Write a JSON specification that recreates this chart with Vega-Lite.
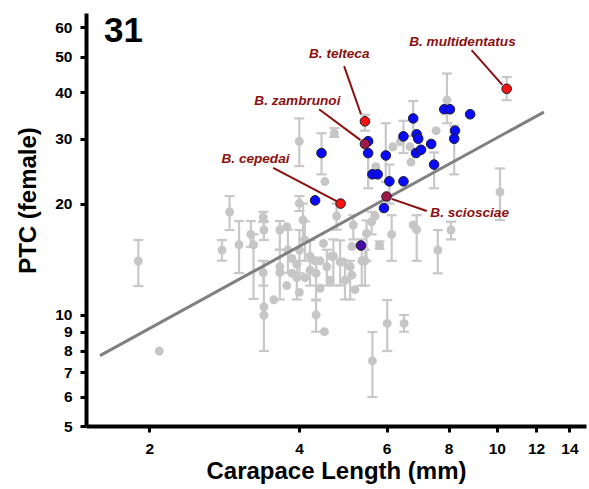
{
  "$schema": "https://vega.github.io/schema/vega-lite/v6.json",
  "width": 500,
  "height": 413,
  "autosize": "none",
  "padding": {"left": 86, "top": 13, "right": 3, "bottom": 63},
  "background": "white",
  "config": {
    "view": {"stroke": null},
    "axis": {
      "grid": false,
      "domainColor": "black",
      "domainWidth": 4,
      "tickColor": "black",
      "tickWidth": 3,
      "tickSize": 6,
      "labelFont": "Liberation Sans",
      "labelFontSize": 15.5,
      "labelFontWeight": "bold",
      "labelColor": "black",
      "titleFont": "Liberation Sans",
      "titleFontSize": 24,
      "titleFontWeight": "bold",
      "titleColor": "black"
    }
  },
  "datasets": {
    "pts": [
      {"x": 1.90, "y": 13.98, "g": "gray", "lo": 11.96, "hi": 15.94},
      {"x": 2.094, "y": 7.98, "g": "gray"},
      {"x": 2.80, "y": 14.97, "g": "gray", "lo": 14.01, "hi": 15.94},
      {"x": 2.90, "y": 18.97, "g": "gray", "lo": 16.96, "hi": 20.96},
      {"x": 3.03, "y": 15.47, "g": "gray", "lo": 12.97, "hi": 17.94},
      {"x": 3.20, "y": 16.51, "g": "gray", "lo": 15.26, "hi": 17.94},
      {"x": 3.24, "y": 15.47, "g": "gray", "lo": 11.04, "hi": 16.51},
      {"x": 3.39, "y": 18.39, "g": "gray", "lo": 17.82, "hi": 19.0},
      {"x": 3.40, "y": 16.96, "g": "gray", "lo": 15.94, "hi": 17.94},
      {"x": 3.39, "y": 13.0, "g": "gray", "lo": 12.0, "hi": 14.0},
      {"x": 3.40, "y": 10.5, "g": "gray", "lo": 7.98, "hi": 13.98},
      {"x": 3.40, "y": 9.97, "g": "gray"},
      {"x": 3.56, "y": 10.98, "g": "gray"},
      {"x": 3.66, "y": 16.96, "g": "gray", "lo": 15.0, "hi": 17.94},
      {"x": 3.66, "y": 13.49, "g": "gray"},
      {"x": 3.66, "y": 13.0, "g": "gray", "lo": 11.0, "hi": 15.0},
      {"x": 3.78, "y": 17.31, "g": "gray"},
      {"x": 4.006, "y": 20.03, "g": "gray", "lo": 19.09, "hi": 20.96},
      {"x": 4.006, "y": 29.5, "g": "gray", "lo": 25.26, "hi": 34.0},
      {"x": 4.71, "y": 31.0, "g": "gray", "lo": 30.3, "hi": 32.0},
      {"x": 4.51, "y": 22.94, "g": "gray"},
      {"x": 5.71, "y": 25.16, "g": "gray"},
      {"x": 6.18, "y": 28.5, "g": "gray"},
      {"x": 6.40, "y": 29.4, "g": "gray"},
      {"x": 6.69, "y": 28.5, "g": "gray"},
      {"x": 6.72, "y": 25.9, "g": "gray"},
      {"x": 7.55, "y": 31.5, "g": "gray"},
      {"x": 7.94, "y": 38.1, "g": "gray", "lo": 33.0, "hi": 45.0},
      {"x": 10.15, "y": 21.5, "g": "gray", "lo": 18.05, "hi": 24.9},
      {"x": 8.09, "y": 16.96, "g": "gray", "lo": 16.0, "hi": 17.86},
      {"x": 7.61, "y": 14.97, "g": "gray", "lo": 12.95, "hi": 16.96},
      {"x": 6.90, "y": 17.0, "g": "gray", "lo": 14.0, "hi": 18.6},
      {"x": 6.79, "y": 17.5, "g": "gray"},
      {"x": 6.145, "y": 16.5, "g": "gray", "lo": 14.0, "hi": 18.6},
      {"x": 5.81, "y": 15.4, "g": "gray", "lo": 15.1, "hi": 15.8},
      {"x": 5.60, "y": 17.86, "g": "gray", "lo": 16.5, "hi": 19.0},
      {"x": 5.69, "y": 18.5, "g": "gray"},
      {"x": 5.145, "y": 17.5, "g": "gray", "lo": 16.0, "hi": 18.6},
      {"x": 4.76, "y": 18.5, "g": "gray", "lo": 17.0, "hi": 20.0},
      {"x": 4.075, "y": 18.05, "g": "gray", "lo": 16.0, "hi": 20.0},
      {"x": 5.47, "y": 16.6, "g": "gray", "lo": 14.0, "hi": 18.0},
      {"x": 5.11, "y": 15.3, "g": "gray"},
      {"x": 4.84, "y": 13.9, "g": "gray", "lo": 12.0, "hi": 15.9},
      {"x": 4.55, "y": 13.49, "g": "gray", "lo": 12.0, "hi": 15.0},
      {"x": 4.31, "y": 14.0, "g": "gray"},
      {"x": 4.11, "y": 15.94, "g": "gray", "lo": 14.0, "hi": 17.9},
      {"x": 4.48, "y": 15.6, "g": "gray"},
      {"x": 4.69, "y": 14.4, "g": "gray", "lo": 12.0, "hi": 16.0},
      {"x": 5.43, "y": 14.0, "g": "gray", "lo": 12.0, "hi": 15.0},
      {"x": 5.07, "y": 13.49, "g": "gray", "lo": 11.0, "hi": 14.0},
      {"x": 4.21, "y": 13.2, "g": "gray"},
      {"x": 3.96, "y": 12.6, "g": "gray", "lo": 11.0, "hi": 14.0},
      {"x": 4.11, "y": 12.6, "g": "gray"},
      {"x": 4.006, "y": 11.5, "g": "gray"},
      {"x": 3.87, "y": 12.95, "g": "gray"},
      {"x": 4.33, "y": 12.95, "g": "gray", "lo": 11.0, "hi": 14.0},
      {"x": 4.33, "y": 9.99, "g": "gray", "lo": 9.0, "hi": 10.94},
      {"x": 4.50, "y": 9.0, "g": "gray"},
      {"x": 6.02, "y": 9.48, "g": "gray", "lo": 7.98, "hi": 10.96},
      {"x": 6.51, "y": 9.48, "g": "gray", "lo": 9.0, "hi": 9.99},
      {"x": 5.62, "y": 7.50, "g": "gray", "lo": 5.99, "hi": 8.98},
      {"x": 3.80, "y": 14.97, "g": "gray", "lo": 13.0, "hi": 17.0},
      {"x": 3.87, "y": 14.2, "g": "gray"},
      {"x": 3.96, "y": 13.7, "g": "gray"},
      {"x": 4.009, "y": 14.97, "g": "gray", "lo": 12.95, "hi": 16.96},
      {"x": 3.78, "y": 12.0, "g": "gray"},
      {"x": 4.21, "y": 14.4, "g": "gray", "lo": 12.0, "hi": 15.94},
      {"x": 4.41, "y": 11.8, "g": "gray"},
      {"x": 4.62, "y": 12.4, "g": "gray"},
      {"x": 4.95, "y": 12.4, "g": "gray", "lo": 11.0, "hi": 14.0},
      {"x": 5.185, "y": 11.7, "g": "gray"},
      {"x": 5.35, "y": 14.0, "g": "gray", "lo": 12.0, "hi": 16.0},
      {"x": 5.11, "y": 12.8, "g": "gray"},
      {"x": 4.91, "y": 13.9, "g": "gray"},
      {"x": 4.65, "y": 14.4, "g": "gray"},
      {"x": 4.41, "y": 14.0, "g": "gray"},
      {"x": 5.51, "y": 29.5, "g": "blue"},
      {"x": 5.51, "y": 27.4, "g": "blue", "lo": 22.0, "hi": 29.5},
      {"x": 4.44, "y": 27.4, "g": "blue", "lo": 24.0, "hi": 31.0},
      {"x": 4.31, "y": 20.4, "g": "blue"},
      {"x": 5.93, "y": 19.45, "g": "blue"},
      {"x": 5.62, "y": 24.0, "g": "blue"},
      {"x": 5.76, "y": 24.0, "g": "blue"},
      {"x": 5.98, "y": 27.0, "g": "blue", "lo": 22.9, "hi": 33.0},
      {"x": 6.08, "y": 22.97, "g": "blue", "lo": 20.0, "hi": 25.5},
      {"x": 6.49, "y": 22.97, "g": "blue"},
      {"x": 6.49, "y": 30.4, "g": "blue", "lo": 27.4, "hi": 33.5},
      {"x": 6.79, "y": 34.0, "g": "blue", "lo": 30.5, "hi": 37.9},
      {"x": 6.90, "y": 30.8, "g": "blue"},
      {"x": 6.95, "y": 29.96, "g": "blue"},
      {"x": 6.88, "y": 27.4, "g": "blue"},
      {"x": 7.04, "y": 27.97, "g": "blue"},
      {"x": 7.38, "y": 29.0, "g": "blue"},
      {"x": 7.48, "y": 25.5, "g": "blue", "lo": 22.0, "hi": 27.5},
      {"x": 7.84, "y": 36.0, "g": "blue"},
      {"x": 8.05, "y": 36.0, "g": "blue"},
      {"x": 8.84, "y": 34.9, "g": "blue"},
      {"x": 8.24, "y": 31.5, "g": "blue"},
      {"x": 8.21, "y": 29.96, "g": "blue", "lo": 24.0, "hi": 32.5},
      {"x": 5.33, "y": 15.4, "g": "purple"},
      {"x": 10.47, "y": 40.9, "g": "red", "lo": 38.1, "hi": 44.0},
      {"x": 5.43, "y": 33.4, "g": "red", "lo": 31.5, "hi": 34.8},
      {"x": 4.85, "y": 20.0, "g": "red"},
      {"x": 5.43, "y": 29.0, "g": "maroon"},
      {"x": 6.00, "y": 20.9, "g": "maroon"}
    ],
    "fit": [
      {"x": 1.591, "y": 7.75},
      {"x": 12.44, "y": 35.38}
    ],
    "ann": [
      {"label": "B. multidentatus", "tx": 8.53, "ty": 54.9, "x1": 8.90, "y1": 52.05, "x2": 10.26, "y2": 41.9},
      {"label": "B. telteca", "tx": 4.82, "ty": 50.7, "x1": 4.93, "y1": 47.1, "x2": 5.33, "y2": 34.9},
      {"label": "B. zambrunoi", "tx": 3.97, "ty": 37.9, "x1": 4.39, "y1": 36.0, "x2": 5.32, "y2": 29.7},
      {"label": "B. cepedai", "tx": 3.27, "ty": 26.4, "x1": 3.55, "y1": 25.0, "x2": 4.76, "y2": 20.3},
      {"label": "B. sciosciae", "tx": 8.82, "ty": 18.9, "x1": 6.145, "y1": 20.6, "x2": 7.23, "y2": 19.1}
    ],
    "panel": [
      {"t": "31", "x": 1.621, "y": 54.8}
    ]
  },
  "layer": [
    {
      "data": {"name": "pts"},
      "transform": [{"filter": "isValid(datum.lo)"}],
      "mark": {"type": "rule", "color": "#c8c8c8", "strokeWidth": 2.2},
      "encoding": {
        "x": {
          "field": "x",
          "type": "quantitative",
          "scale": {"type": "log", "domain": [1.491, 15.12], "nice": false},
          "axis": {
            "title": "Carapace Length (mm)",
            "values": [2, 4, 6, 8, 10, 12, 14],
            "format": "d",
            "labelFlush": false,
            "labelOverlap": false,
            "labelPadding": 9,
            "titleY": 52,
            "titleBaseline": "alphabetic"
          }
        },
        "y": {
          "field": "lo",
          "type": "quantitative",
          "scale": {"type": "log", "domain": [5, 65.6], "nice": false},
          "axis": {
            "title": "PTC (female)",
            "values": [5, 6, 7, 8, 9, 10, 20, 30, 40, 50, 60],
            "format": "d",
            "labelOverlap": false,
            "labelPadding": 8,
            "titleX": -51,
            "titleY": 187,
            "titleAngle": 270,
            "titleAlign": "center",
            "titleBaseline": "alphabetic"
          }
        },
        "y2": {"field": "hi"}
      }
    },
    {
      "data": {"name": "pts"},
      "transform": [{"fold": ["lo", "hi"], "as": ["k", "v"]}, {"filter": "isValid(datum.v)"}],
      "mark": {"type": "tick", "orient": "horizontal", "color": "#c8c8c8", "size": 10, "thickness": 2.2, "opacity": 1},
      "encoding": {
        "x": {"field": "x", "type": "quantitative", "title": "Carapace Length (mm)"},
        "y": {"field": "v", "type": "quantitative", "title": "PTC (female)"}
      }
    },
    {
      "data": {"name": "pts"},
      "transform": [{"filter": "datum.g === 'gray'"}],
      "mark": {"type": "circle", "color": "#c6c6c6", "size": 80, "opacity": 1},
      "encoding": {
        "x": {"field": "x", "type": "quantitative", "title": "Carapace Length (mm)"},
        "y": {"field": "y", "type": "quantitative", "title": "PTC (female)"}
      }
    },
    {
      "data": {"name": "fit"},
      "mark": {"type": "line", "color": "#808080", "strokeWidth": 3},
      "encoding": {
        "x": {"field": "x", "type": "quantitative", "title": "Carapace Length (mm)"},
        "y": {"field": "y", "type": "quantitative", "title": "PTC (female)"}
      }
    },
    {
      "data": {"name": "ann"},
      "mark": {"type": "rule", "color": "#8b1010", "strokeWidth": 2},
      "encoding": {
        "x": {"field": "x1", "type": "quantitative", "title": "Carapace Length (mm)"},
        "y": {"field": "y1", "type": "quantitative", "title": "PTC (female)"},
        "x2": {"field": "x2"},
        "y2": {"field": "y2"}
      }
    },
    {
      "data": {"name": "pts"},
      "transform": [{"filter": "datum.g !== 'gray'"}],
      "mark": {"type": "circle", "size": 92, "opacity": 1, "stroke": "#1a1a2a", "strokeWidth": 1},
      "encoding": {
        "x": {"field": "x", "type": "quantitative", "title": "Carapace Length (mm)"},
        "y": {"field": "y", "type": "quantitative", "title": "PTC (female)"},
        "color": {
          "field": "g",
          "type": "nominal",
          "scale": {"domain": ["blue", "purple", "red", "maroon"], "range": ["#0a0aff", "#4a0aa8", "#ff1010", "#a01848"]},
          "legend": null
        }
      }
    },
    {
      "data": {"name": "ann"},
      "mark": {"type": "text", "font": "Liberation Sans", "fontSize": 13.6, "fontWeight": "bold", "fontStyle": "italic", "color": "#8b1010", "align": "center", "baseline": "middle"},
      "encoding": {
        "x": {"field": "tx", "type": "quantitative", "title": "Carapace Length (mm)"},
        "y": {"field": "ty", "type": "quantitative", "title": "PTC (female)"},
        "text": {"field": "label"}
      }
    },
    {
      "data": {"name": "panel"},
      "mark": {"type": "text", "font": "Liberation Sans", "fontSize": 35, "fontWeight": "bold", "color": "black", "align": "left", "baseline": "alphabetic"},
      "encoding": {
        "x": {"field": "x", "type": "quantitative", "title": "Carapace Length (mm)"},
        "y": {"field": "y", "type": "quantitative", "title": "PTC (female)"},
        "text": {"field": "t"}
      }
    }
  ]
}
